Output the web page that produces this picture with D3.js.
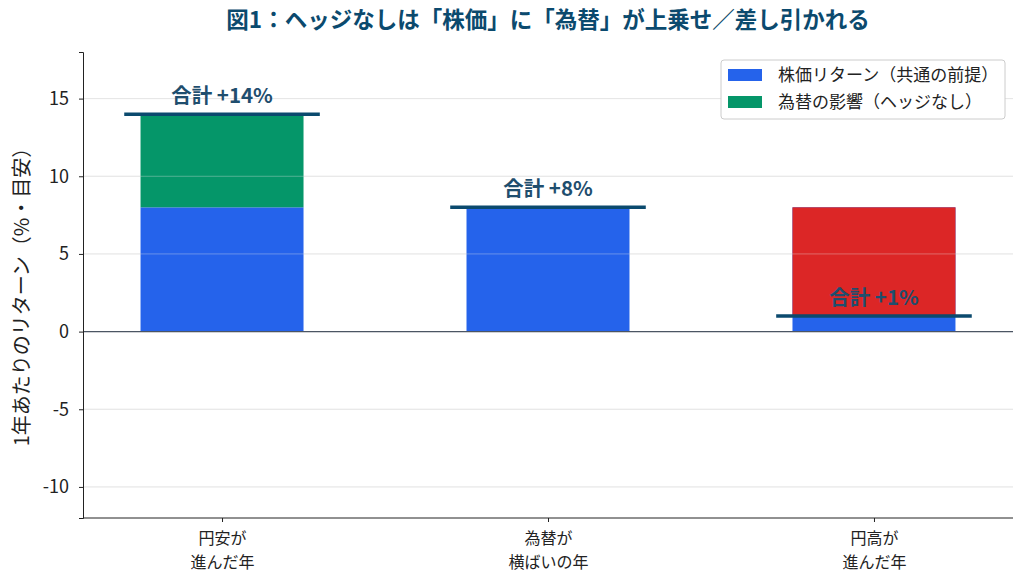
<!DOCTYPE html>
<html lang="ja">
<head>
<meta charset="UTF-8">
<title>図1</title>
<script src="https://d3js.org/d3.v7.min.js"></script>
<style>
  body { margin: 0; background: #fff; }
  svg text { font-family: "Noto Sans CJK JP", "Noto Sans", sans-serif; }
  .tick text { font-size: 18px; fill: #222; }
</style>
</head>
<body>
<svg width="1027" height="585"></svg>
<script>
// データ
const categories = [["円安が", "進んだ年"], ["為替が", "横ばいの年"], ["円高が", "進んだ年"]];
const stockReturn = [8, 8, 8];
const fxEffect = [6, 0, -7];
const totals = [14, 8, 1];
const yTicks = [-10, -5, 0, 5, 10, 15];
const legendLabels = ["株価リターン（共通の前提）", "為替の影響（ヘッジなし）"];

const colors = { stock: "#2563eb", up: "#059669", down: "#dc2626", total: "#0b4a6e" };

const margin = { top: 52, right: 14, bottom: 67, left: 83 };
const W = 1027, H = 585;
const width = W - margin.left - margin.right;
const height = H - margin.top - margin.bottom;

const svg = d3.select("svg");
const g = svg.append("g").attr("transform", `translate(${margin.left},${margin.top})`);

const idx = d3.range(categories.length);
const x = d3.scalePoint().domain(idx).range([0, width]).padding(0.4265);
const barW = x.step() * 0.5;
const y = d3.scaleLinear().domain([-12, 18]).range([height, 0]);

// グリッド
g.append("g").selectAll("line").data(yTicks).join("line")
  .attr("x1", 0).attr("x2", width)
  .attr("y1", d => y(d)).attr("y2", d => y(d))
  .attr("stroke", "#e6e6e6").attr("stroke-width", 1);

// 株価バー
g.append("g").selectAll("rect").data(idx).join("rect")
  .attr("x", i => x(i) - barW / 2)
  .attr("width", barW)
  .attr("y", i => y(Math.max(0, stockReturn[i])))
  .attr("height", i => Math.abs(y(stockReturn[i]) - y(0)))
  .attr("fill", colors.stock);

// 為替バー（株価の上に積む）
g.append("g").selectAll("rect").data(idx.filter(i => fxEffect[i] !== 0)).join("rect")
  .attr("x", i => x(i) - barW / 2)
  .attr("width", barW)
  .attr("y", i => y(Math.max(stockReturn[i], stockReturn[i] + fxEffect[i])))
  .attr("height", i => Math.abs(y(stockReturn[i] + fxEffect[i]) - y(stockReturn[i])))
  .attr("fill", i => fxEffect[i] > 0 ? colors.up : colors.down);

// バー上にうっすらグリッド
g.append("g").selectAll("line").data(yTicks.filter(d => d !== 0)).join("line")
  .attr("x1", 0).attr("x2", width)
  .attr("y1", d => y(d)).attr("y2", d => y(d))
  .attr("stroke", "#e6e6e6").attr("stroke-opacity", 0.35).attr("stroke-width", 1);

// ゼロライン
g.append("line")
  .attr("x1", 0).attr("x2", width)
  .attr("y1", y(0)).attr("y2", y(0))
  .attr("stroke", "#4b5563").attr("stroke-width", 1.3);

// 合計ライン
const halfLine = x.step() * 0.3;
g.append("g").selectAll("line").data(idx).join("line")
  .attr("x1", i => x(i) - halfLine).attr("x2", i => x(i) + halfLine)
  .attr("y1", i => y(totals[i])).attr("y2", i => y(totals[i]))
  .attr("stroke", colors.total).attr("stroke-width", 3.5);

g.append("g").selectAll("text").data(idx).join("text")
  .attr("x", i => x(i))
  .attr("y", i => y(totals[i]) - 11)
  .attr("text-anchor", "middle")
  .attr("fill", "#1f4e6e")
  .style("font-size", "20.5px")
  .style("font-weight", "bold")
  .text(i => "合計 +" + totals[i] + "%");

// Y軸
const yAxis = g.append("g")
  .call(d3.axisLeft(y).tickValues(yTicks).tickSize(4).tickPadding(10).tickFormat(d => String(d)));
yAxis.select(".domain").attr("stroke", "#222");
yAxis.selectAll(".tick line").attr("stroke", "#222");

// X軸
const xAxis = g.append("g")
  .attr("transform", `translate(0,${height})`)
  .call(d3.axisBottom(x).tickSize(4).tickFormat(""));
xAxis.select(".domain").attr("stroke", "#222").attr("d", `M0,0H${width}`);
xAxis.selectAll(".tick line").attr("stroke", "#222");
xAxis.selectAll(".tick").each(function(i) {
  categories[i].forEach((s, k) => {
    d3.select(this).append("text")
      .attr("x", 0).attr("y", 26 + k * 23.5)
      .attr("text-anchor", "middle").attr("fill", "#222")
      .style("font-size", "16px")
      .text(s);
  });
});

// Y軸ラベル
svg.append("text")
  .attr("transform", `translate(29,${margin.top + height / 2 + 7}) rotate(-90)`)
  .attr("text-anchor", "middle")
  .attr("fill", "#222")
  .style("font-size", "20px")
  .text("1年あたりのリターン（%・目安）");

// タイトル
svg.append("text")
  .attr("x", margin.left + width / 2)
  .attr("y", 28)
  .attr("text-anchor", "middle")
  .attr("fill", "#0b4a6e")
  .style("font-size", "22.5px")
  .style("font-weight", "bold")
  .text("図1：ヘッジなしは「株価」に「為替」が上乗せ／差し引かれる");

// 凡例
const legend = svg.append("g").attr("transform", "translate(721,60)");
legend.append("rect")
  .attr("width", 284).attr("height", 59).attr("rx", 3)
  .attr("fill", "#fff").attr("stroke", "#ccc");
[colors.stock, colors.up].forEach((c, k) => {
  legend.append("rect")
    .attr("x", 7).attr("y", 9 + k * 27).attr("width", 34).attr("height", 12)
    .attr("fill", c);
  legend.append("text")
    .attr("x", 57).attr("y", 21 + k * 27)
    .attr("fill", "#222")
    .style("font-size", "17px")
    .text(legendLabels[k]);
});
</script>
</body>
</html>
